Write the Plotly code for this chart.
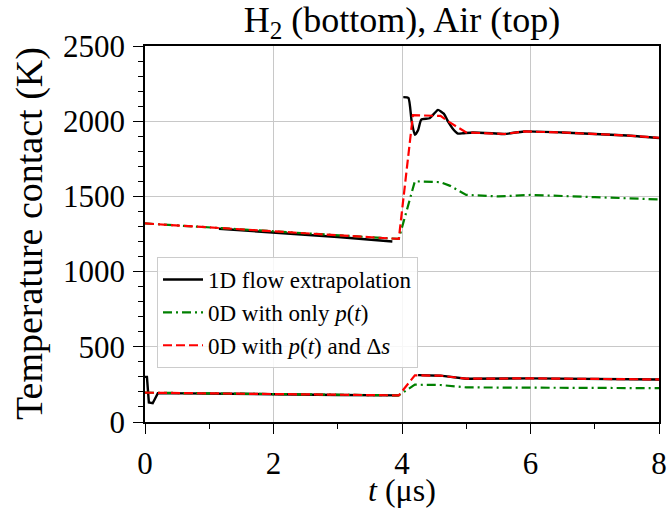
import plotly.graph_objects as go

# ---- data ----
# Air (top) curves
t_red_top = [0, 3.95, 4.17, 4.6, 4.75, 5.0, 5.6, 5.9, 6.5, 7.0, 7.5, 8.0]
T_red_top = [1320, 1217, 2040, 2035, 1990, 1925, 1915, 1932, 1925, 1915, 1905, 1890]
t_green_top = [0, 3.95, 4.2, 4.6, 4.75, 5.0, 5.5, 6.0, 7.0, 8.0]
T_green_top = [1320, 1217, 1600, 1595, 1570, 1510, 1500, 1510, 1495, 1480]
t_black_top1 = [1.15, 2.0, 3.0, 3.85]
T_black_top1 = [1285, 1262, 1230, 1200]
t_black_top2 = [4.02, 4.1, 4.15, 4.2, 4.25, 4.3, 4.43, 4.5, 4.56, 4.65, 4.72, 4.8, 4.87,
                4.95, 5.1, 5.4, 5.6, 5.9, 6.5, 7.0, 7.5, 8.0]
T_black_top2 = [2160, 2155, 2000, 1910, 1940, 2010, 2020, 2050, 2075, 2050, 1995, 1945, 1918,
                1920, 1925, 1920, 1915, 1932, 1925, 1915, 1905, 1888]

# H2 (bottom) curves
t_red_bot = [0, 3.95, 4.2, 4.6, 5.0, 6.0, 8.0]
T_red_bot = [195, 177, 310, 308, 288, 290, 283]
t_green_bot = [0, 3.95, 4.2, 4.6, 5.0, 6.0, 8.0]
T_green_bot = [195, 177, 248, 246, 230, 230, 225]
t_black_bot1 = [0, 0.03, 0.06, 0.12, 0.2, 1.0, 2.0, 3.0, 3.95]
T_black_bot1 = [300, 300, 130, 125, 192, 190, 185, 180, 177]
t_black_bot2 = [4.25, 4.6, 5.0, 6.0, 8.0]
T_black_bot2 = [312, 308, 288, 290, 283]

labels = ["1D flow extrapolation", "0D with only <i>p</i>(<i>t</i>)",
          "0D with <i>p</i>(<i>t</i>) and Δ<i>s</i>"]
title_text = "H<sub>2</sub> (bottom), Air (top)"
xlabel = "<i>t</i> (μs)"
ylabel = "Temperature contact (K)"

FONT = "Liberation Serif"
fig = go.Figure()

black = dict(color="black", width=2.4)
green = dict(color="green", width=2.2, dash="9px,4px,2px,4px")
red = dict(color="red", width=2.2, dash="9px,4px")

# black
fig.add_trace(go.Scatter(x=t_black_top1, y=T_black_top1, mode="lines", line=black,
                         name=labels[0], legendgroup="b", showlegend=True))
fig.add_trace(go.Scatter(x=t_black_top2, y=T_black_top2, mode="lines", line=black,
                         line_shape="spline", line_smoothing=0.5,
                         legendgroup="b", showlegend=False))
fig.add_trace(go.Scatter(x=t_black_bot1, y=T_black_bot1, mode="lines", line=black,
                         legendgroup="b", showlegend=False))
fig.add_trace(go.Scatter(x=t_black_bot2, y=T_black_bot2, mode="lines", line=black,
                         legendgroup="b", showlegend=False))
# green
fig.add_trace(go.Scatter(x=t_green_top, y=T_green_top, mode="lines", line=green,
                         name=labels[1], legendgroup="g", showlegend=True))
fig.add_trace(go.Scatter(x=t_green_bot, y=T_green_bot, mode="lines", line=green,
                         legendgroup="g", showlegend=False))
# red
fig.add_trace(go.Scatter(x=t_red_top, y=T_red_top, mode="lines", line=red,
                         name=labels[2], legendgroup="r", showlegend=True))
fig.add_trace(go.Scatter(x=t_red_bot, y=T_red_bot, mode="lines", line=red,
                         legendgroup="r", showlegend=False))

axis_common = dict(showline=True, linecolor="black", linewidth=1.5, mirror=True,
                   showgrid=True, gridcolor="#c8c8c8", gridwidth=1,
                   ticks="outside", ticklen=10, tickwidth=1.2, tickcolor="black",
                   zeroline=False, automargin=False, ticklabeloverflow="allow",
                   tickfont=dict(family=FONT, size=31, color="black"))

PL, PR, PT, PB = 145, 8, 46, 87
H = 509
plot_h = H - PT - PB
plot_w = 667 - PL - PR

fig.update_layout(
    width=667, height=H,
    margin=dict(l=PL, r=PR, t=PT, b=PB),
    paper_bgcolor="white", plot_bgcolor="white",
    font=dict(family=FONT, color="black"),
    title=dict(text=title_text, x=0.5, xref="paper",
               y=1 - 19 / H, yref="container", yanchor="middle",
               font=dict(family=FONT, size=36, color="black")),
    xaxis=dict(range=[0, 8], dtick=2, tick0=0, ticklabelstandoff=3,
               minor=dict(dtick=1, ticks="outside", ticklen=5, tickcolor="black", showgrid=False),
               **axis_common),
    yaxis=dict(range=[0, 2500], dtick=500, tick0=0, ticklabelstandoff=2,
               minor=dict(dtick=100, ticks="outside", ticklen=5, tickcolor="black", showgrid=False),
               **axis_common),
    legend=dict(x=(157 - PL) / plot_w, y=(H - PB - 257) / plot_h, xanchor="left", yanchor="top",
                bgcolor="rgba(255,255,255,0.85)", bordercolor="#cccccc", borderwidth=1,
                font=dict(family=FONT, size=23, color="black"), tracegroupgap=0,
                itemwidth=40),
    showlegend=True,
    annotations=[
        dict(text=xlabel, xref="paper", yref="paper", x=0.5,
             y=-(509 - (H - PB)) / plot_h, xanchor="center", yanchor="bottom",
             showarrow=False, borderpad=0, font=dict(family=FONT, size=32, color="black")),
        dict(text=ylabel, xref="paper", yref="paper", x=-(PL - 29) / plot_w,
             y=0.5, xanchor="center", yanchor="middle", textangle=-90,
             showarrow=False, font=dict(family=FONT, size=38, color="black")),
    ],
)

fig.write_html("out.html")
